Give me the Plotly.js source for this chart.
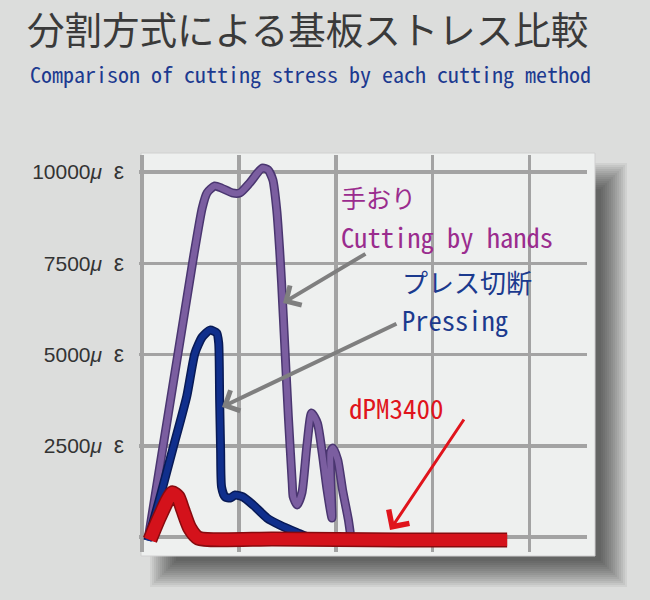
<!DOCTYPE html>
<html>
<head>
<meta charset="utf-8">
<script src="https://cdn.plot.ly/plotly-3.0.1.min.js"></script>
<style>
  html, body { margin: 0; padding: 0; background: #dcdddc; }
  #chart { width: 650px; height: 600px; }
</style>
</head>
<body>
<div id="chart"></div>
<script>
// ---- data ----
const yTickValues = [0, 2500, 5000, 7500, 10000];
const yTickLabels = ['', '2500<i>μ</i>\u00a0\u00a0<span style="font-size:23px">ε</span>', '5000<i>μ</i>\u00a0\u00a0<span style="font-size:23px">ε</span>',
                     '7500<i>μ</i>\u00a0\u00a0<span style="font-size:23px">ε</span>', '10000<i>μ</i>\u00a0\u00a0<span style="font-size:23px">ε</span>'];
const xGrid = [0, 1, 2, 3, 4];

// 手おり / Cutting by hands
const xHands = [0.06, 0.525, 0.62, 0.67, 0.75, 0.82, 0.93, 1.01, 1.11, 1.24, 1.30, 1.35, 1.39, 1.42, 1.44, 1.475, 1.51, 1.55, 1.56, 1.60, 1.65, 1.70, 1.75, 1.81, 1.86, 1.91, 1.96, 1.945, 1.97, 2.02, 2.07, 2.13, 2.15];
const yHands = [-80, 7590, 9015, 9430, 9620, 9560, 9430, 9430, 9700, 10110, 10060, 9780, 8960, 7860, 6960, 5120, 3290, 1480, 1100, 880, 1210, 2470, 3400, 3120, 2300, 1290, 520, 2330, 2440, 2110, 1290, 470, 100];

// プレス切断 / Pressing
const xPress = [0.06, 0.18, 0.32, 0.46, 0.545, 0.62, 0.70, 0.77, 0.79, 0.80, 0.81, 0.82, 0.855, 0.91, 0.96, 1.04, 1.145, 1.29, 1.42, 1.60, 1.73, 1.94];
const yPress = [-100, 1050, 2450, 3850, 5040, 5480, 5670, 5590, 5320, 3750, 2380, 1370, 1100, 1070, 1150, 1100, 880, 520, 330, 120, -20, -60];

// dPM3400
const xDpm = [0.08, 0.18, 0.31, 0.37, 0.42, 0.49, 0.58, 1.35, 2.66, 3.77];
const yDpm = [-80, 550, 1210, 1100, 740, 250, -30, -55, -80, -80];

// ---- layout geometry ----
const L = 139, R = 587, T = 155, B = 552;
const W = 650, H = 600;
const px = v => (v - L) / (R - L);
const py = v => (B - v) / (B - T);
const ypx = p => (537 - p) * 27.4;   // pixel row -> y-axis value (for label placement)

const monoFont = '"Noto Sans Mono CJK JP", "Noto Sans CJK JP", "DejaVu Sans Mono", monospace';
const cjkFont = '"Noto Sans CJK JP", "Noto Sans", sans-serif';

function tube(x, y, main, dark, w) {
  return [
    {x: x, y: y, type: 'scatter', mode: 'lines', hoverinfo: 'skip',
     line: {color: dark, width: w + 3, shape: 'spline', smoothing: 0.6}},
    {x: x, y: y, type: 'scatter', mode: 'lines', hoverinfo: 'skip',
     line: {color: main, width: w, shape: 'spline', smoothing: 0.6}}
  ];
}

const data = [].concat(
  tube(xHands, yHands, '#7b5ea0', '#4a3670', 6),
  tube(xPress, yPress, '#102f8c', '#081a55', 6),
  tube(xDpm, yDpm, '#d4121b', '#870a0e', 12)
);

// panel shadow (soft, layered) + panel
const shapes = [];
for (let k = 0; k < 14; k++) {
  shapes.push({type: 'rect', xref: 'paper', yref: 'paper', layer: 'below',
    x0: px(150 + 2 * k), x1: px(627 - 2 * k), y0: py(587 - 2 * k), y1: py(163 + 2 * k),
    fillcolor: 'rgba(0,0,0,0.05)', line: {width: 0}});
}
shapes.push({type: 'rect', xref: 'paper', yref: 'paper', layer: 'below',
  x0: px(141), x1: px(595), y0: py(556), y1: py(153),
  fillcolor: '#eef0ef', line: {color: '#d0d0d0', width: 1}});

const arrowGray = '#7f7f7f';
const annotations = [
  {xref: 'paper', yref: 'paper', x: (28 - L) / (R - L), y: py(73), xanchor: 'left', yanchor: 'middle',
   text: 'Comparison of cutting stress by each cutting method', showarrow: false,
   font: {family: monoFont, size: 22, color: '#1c3a90'}},
  // arrows
  {xref: 'x', yref: 'y', axref: 'x', ayref: 'y', x: 1.455, y: 6412, ax: 2.322, ay: 7782,
   text: '', showarrow: true, arrowhead: 4, arrowsize: 1.1, arrowwidth: 4, arrowcolor: arrowGray, standoff: 0},
  {xref: 'x', yref: 'y', axref: 'x', ayref: 'y', x: 0.824, y: 3562, ax: 2.642, ay: 5864,
   text: '', showarrow: true, arrowhead: 4, arrowsize: 1.1, arrowwidth: 4, arrowcolor: arrowGray, standoff: 0},
  {xref: 'x', yref: 'y', axref: 'x', ayref: 'y', x: 2.56, y: 192, ax: 3.334, ay: 3261,
   text: '', showarrow: true, arrowhead: 4, arrowsize: 1.6, arrowwidth: 3, arrowcolor: '#e0141c', standoff: 0},
  // labels
  {xref: 'x', yref: 'y', x: 2.04, y: ypx(197), xanchor: 'left', yanchor: 'middle', showarrow: false, borderpad: 0,
   text: '手おり', font: {family: cjkFont, size: 25, color: '#9a2c8e'}},
  {xref: 'x', yref: 'y', x: 2.04, y: ypx(236), xanchor: 'left', yanchor: 'middle', showarrow: false, borderpad: 0,
   text: 'Cutting by hands', font: {family: monoFont, size: 26.5, color: '#9a2c8e'}},
  {xref: 'x', yref: 'y', x: 2.67, y: ypx(281), xanchor: 'left', yanchor: 'middle', showarrow: false, borderpad: 0,
   text: 'プレス切断', font: {family: cjkFont, size: 26, color: '#1b3a8e'}},
  {xref: 'x', yref: 'y', x: 2.67, y: ypx(319), xanchor: 'left', yanchor: 'middle', showarrow: false, borderpad: 0,
   text: 'Pressing', font: {family: monoFont, size: 26.5, color: '#1b3a8e'}},
  {xref: 'x', yref: 'y', x: 2.115, y: 3562, xanchor: 'left', yanchor: 'middle', showarrow: false,
   text: 'dPM3400', font: {family: monoFont, size: 27, color: '#e0141c'}}
];

const layout = {
  width: W, height: H,
  margin: {l: L, r: W - R, t: T, b: H - B, pad: 0},
  paper_bgcolor: '#dcdddc',
  plot_bgcolor: 'rgba(0,0,0,0)',
  showlegend: false,
  title: {text: '分割方式による基板ストレス比較', x: 27 / W, xref: 'container', xanchor: 'left',
          y: 1 - 31 / H, yref: 'container', yanchor: 'middle',
          font: {family: cjkFont, size: 37.5, color: '#3a3a3a'}},
  xaxis: {range: [(L - 142.2) / 96.8, (R - 142.2) / 96.8], tickvals: xGrid, showticklabels: false,
          showgrid: true, gridcolor: '#a3a3a3', gridwidth: 3.5, zeroline: false, showline: false, ticks: ''},
  yaxis: {range: [(537 - B) * 27.4, (537 - T) * 27.4], tickvals: yTickValues, ticktext: yTickLabels,
          showgrid: true, gridcolor: '#a3a3a3', gridwidth: 3.5, zeroline: false, showline: false, ticks: '',
          ticklabelstandoff: 14,
          tickfont: {family: '"Liberation Sans", Arial, sans-serif', size: 21, color: '#333333'}},
  shapes: shapes,
  annotations: annotations
};

Plotly.newPlot('chart', data, layout, {displayModeBar: false, staticPlot: true});
</script>
</body>
</html>
